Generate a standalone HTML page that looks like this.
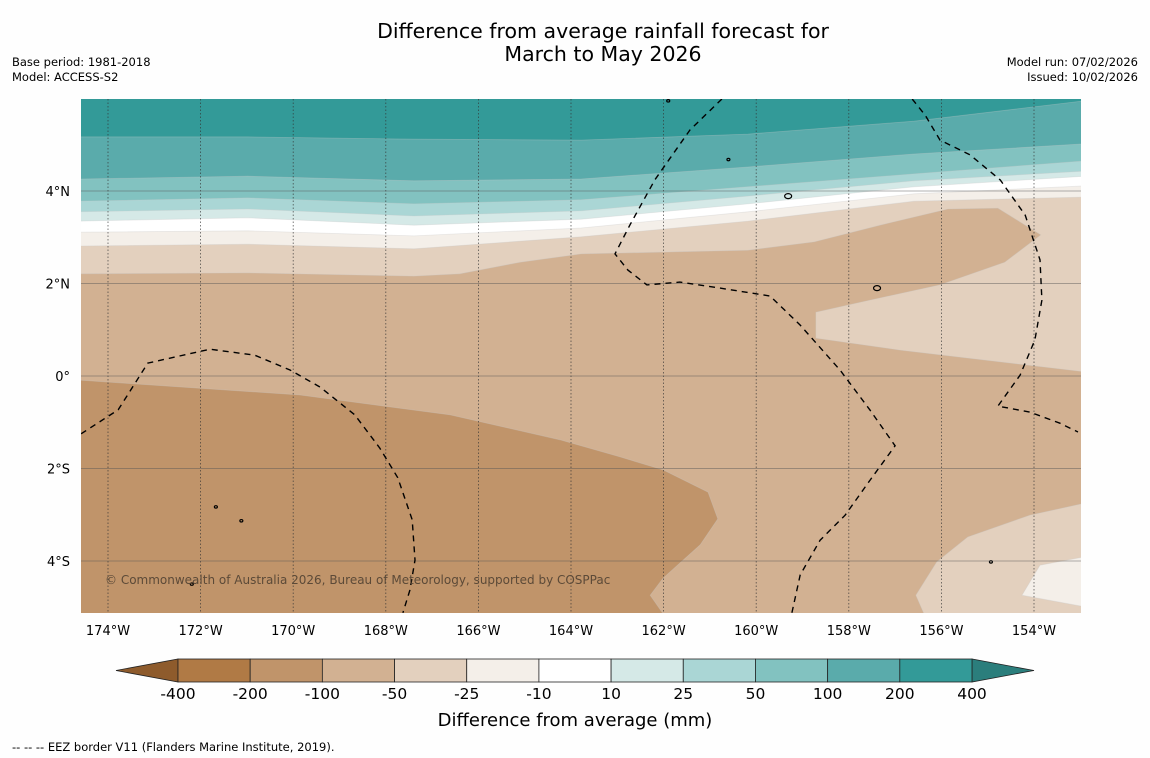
<!DOCTYPE html>
<html><head><meta charset="utf-8"><style>
html,body{margin:0;padding:0;background:#fff;width:1150px;height:758px;overflow:hidden;font-family:"DejaVu Sans",sans-serif;}
svg text{font-family:"DejaVu Sans","Liberation Sans",sans-serif;}
</style></head><body>
<svg id="chart" width="1150" height="758" viewBox="0 0 1150 758" xmlns="http://www.w3.org/2000/svg">
<rect width="1150" height="758" fill="#fefefe"/>
<text x="603" y="38" font-size="20.5" text-anchor="middle">Difference from average rainfall forecast for</text>
<text x="603" y="61" font-size="20.5" text-anchor="middle">March to May 2026</text>
<text x="12" y="66" font-size="11.5">Base period: 1981-2018</text>
<text x="12" y="81" font-size="11.5">Model: ACCESS-S2</text>
<text x="1138" y="66" font-size="11.5" text-anchor="end">Model run: 07/02/2026</text>
<text x="1138" y="81" font-size="11.5" text-anchor="end">Issued: 10/02/2026</text>
<defs><clipPath id="mapclip"><rect x="81" y="99" width="1000" height="514"/></clipPath></defs>
<g id="map" clip-path="url(#mapclip)"></g>
<g id="axes"></g>
<g id="cbar"></g>
<text x="575" y="726" font-size="18" text-anchor="middle">Difference from average (mm)</text>
<text x="12" y="751" font-size="11.5">--  --  -- EEZ border V11 (Flanders Marine Institute, 2019).</text>
</svg>
<script>
// Colour scale data
const levelLabels = ["-400","-200","-100","-50","-25","-10","10","25","50","100","200","400"];
const levelColors = ["#b07a45","#c0946a","#d2b192","#e3d0be","#f4efe9","#ffffff","#d5e9e7","#aad6d5","#82c2c0","#5aabab","#339a98"];
const lonTicks = [-174,-172,-170,-168,-166,-164,-162,-160,-158,-156,-154];
const latTicks = [4,2,0,-2,-4];
const lonLabels = ["174°W","172°W","170°W","168°W","166°W","164°W","162°W","160°W","158°W","156°W","154°W"];
const latLabels = ["4°N","2°N","0°","2°S","4°S"];
// Contour regions as [lon,lat] pairs, drawn in order
const regionColors = ["#c0946a","#e3d0be","#f4efe9","#e3d0be","#f4efe9","#ffffff","#d5e9e7","#aad6d5","#82c2c0","#5aabab","#339a98"];
const regions = [
 [[-174.6,-0.09],[-169.85,-0.41],[-166.61,-0.84],[-164.24,-1.38],[-162.94,-1.75],[-162.01,-2.03],[-161.04,-2.51],[-160.83,-3.09],[-161.21,-3.65],[-162.01,-4.37],[-162.29,-4.74],[-161.97,-5.2],[-174.6,-5.2]],
 [[-152.9,-2.75],[-154.09,-3.01],[-155.43,-3.48],[-156.1,-4.02],[-156.55,-4.74],[-156.35,-5.2],[-152.9,-5.2]],
 [[-152.9,-3.91],[-153.87,-4.09],[-154.26,-4.74],[-152.9,-4.99]],
 [[-174.6,6.1],[-174.6,2.21],[-170.98,2.23],[-167.39,2.16],[-166.4,2.21],[-165.1,2.46],[-163.78,2.64],[-160.18,2.72],[-158.75,2.9],[-157.33,3.26],[-155.86,3.61],[-154.78,3.63],[-153.85,3.05],[-154.63,2.46],[-156.03,1.97],[-157.54,1.64],[-158.71,1.38],[-158.71,0.82],[-156.89,0.56],[-152.9,0.09],[-152.9,6.1]],
 [[-174.6,6.1],[-174.6,2.81],[-170.98,2.85],[-167.39,2.75],[-163.78,3.01],[-160.18,3.35],[-156.59,3.78],[-152.9,3.87],[-152.9,6.1]],
 [[-174.6,6.1],[-174.6,3.11],[-170.98,3.14],[-167.39,3.03],[-163.78,3.2],[-160.18,3.55],[-156.59,3.94],[-152.9,4.11],[-152.9,6.1]],
 [[-174.6,6.1],[-174.6,3.35],[-170.98,3.42],[-167.39,3.26],[-163.78,3.39],[-160.18,3.72],[-156.59,4.09],[-152.9,4.32],[-152.9,6.1]],
 [[-174.6,6.1],[-174.6,3.55],[-170.98,3.61],[-167.39,3.46],[-163.78,3.57],[-160.18,3.89],[-156.59,4.22],[-152.9,4.43],[-152.9,6.1]],
 [[-174.6,6.1],[-174.6,3.78],[-170.98,3.85],[-167.39,3.72],[-163.78,3.81],[-160.18,4.09],[-156.59,4.37],[-152.9,4.65],[-152.9,6.1]],
 [[-174.6,6.1],[-174.6,4.26],[-170.98,4.32],[-167.39,4.22],[-163.78,4.26],[-160.18,4.52],[-156.59,4.8],[-152.9,5.02],[-152.9,6.1]],
 [[-174.6,6.1],[-174.6,5.17],[-170.98,5.17],[-167.39,5.12],[-163.78,5.1],[-160.18,5.23],[-156.59,5.51],[-152.9,5.95],[-152.9,6.1]]
];
const eezLines = [
 [[-174.58,-1.25],[-173.78,-0.73],[-173.14,0.28],[-171.8,0.58],[-170.83,0.45],[-170.07,0.13],[-169.42,-0.24],[-168.67,-0.84],[-168.13,-1.56],[-167.74,-2.2],[-167.43,-3.11],[-167.37,-3.98],[-167.48,-4.63],[-167.63,-5.12]],
 [[-160.74,5.99],[-161.43,5.32],[-162.19,4.24],[-162.73,3.26],[-163.05,2.64],[-162.77,2.29],[-162.36,1.97],[-161.65,2.03],[-160.78,1.9],[-159.7,1.73],[-159.05,1.1],[-158.19,0.13],[-157.54,-0.74],[-157.0,-1.51],[-157.54,-2.25],[-158.08,-3.01],[-158.62,-3.55],[-159.05,-4.3],[-159.23,-5.12]],
 [[-156.63,5.99],[-156.35,5.64],[-156.03,5.1],[-155.38,4.78],[-154.73,4.24],[-154.19,3.48],[-153.87,2.51],[-153.83,1.64],[-153.98,0.78],[-154.3,0.02],[-154.78,-0.65],[-154.09,-0.78],[-153.44,-1.02],[-153.05,-1.21]]
];
const islands = [[-159.31,3.89],[-157.39,1.9],[-171.67,-2.83],[-172.19,-4.5],[-154.93,-4.02],[-171.12,-3.13],[-161.9,5.95],[-160.6,4.68]];
const X0=108, DX=46.3, Y0=376, DY=46.25;
function lonX(lon){return X0+(lon+174)*DX;}
function latY(lat){return Y0-lat*DY;}
const NS="http://www.w3.org/2000/svg";
function mk(tag,attrs,parent){const e=document.createElementNS(NS,tag);for(const k in attrs)e.setAttribute(k,attrs[k]);parent.appendChild(e);return e;}
const map=document.getElementById('map');
const bg=mk('rect',{x:81,y:99,width:1000,height:514,fill:"#d2b192"},map);


regions.forEach((r,i)=>{
 const p=mk('polygon',{points:r.map(q=>lonX(q[0]).toFixed(1)+","+latY(q[1]).toFixed(1)).join(" "),fill:regionColors[i],stroke:"#c8c8c8","stroke-opacity":0.35,"stroke-width":0.8},map);
 
 
});
islands.forEach((s,i)=>{
 const e=mk('ellipse',{cx:lonX(s[0]),cy:latY(s[1]),rx:i<2?3.5:1.5,ry:i<2?2.5:1.2,fill:"none",stroke:"#000","stroke-width":1.2},map);
 
 
});
lonTicks.forEach((lon,i)=>{
 const l=mk('line',{x1:lonX(lon),x2:lonX(lon),y1:99,y2:613,stroke:"#333","stroke-width":0.8,"stroke-dasharray":"1.5,2","stroke-opacity":0.8},map);
 
 
});
latTicks.forEach((lat,i)=>{
 const l=mk('line',{x1:81,x2:1081,y1:latY(lat),y2:latY(lat),stroke:"#555","stroke-width":1,"stroke-opacity":0.45},map);
 
 
});
eezLines.forEach((ln,i)=>{
 const p=mk('polyline',{points:ln.map(q=>lonX(q[0]).toFixed(1)+","+latY(q[1]).toFixed(1)).join(" "),fill:"none",stroke:"#000","stroke-width":1.4,"stroke-dasharray":"6,5"},map);
 
 
});
const cp=mk('text',{x:105,y:584,"font-size":12,fill:"#5c4a38"},map);
cp.textContent="© Commonwealth of Australia 2026, Bureau of Meteorology, supported by COSPPac";


const axes=document.getElementById('axes');
lonTicks.forEach((lon,i)=>{
 const t=mk('text',{x:lonX(lon),y:635,"font-size":13,"text-anchor":"middle"},axes);
 t.textContent=lonLabels[i];
 
 
});
latTicks.forEach((lat,i)=>{
 const t=mk('text',{x:70,y:latY(lat)+5,"font-size":13,"text-anchor":"end"},axes);
 t.textContent=latLabels[i];
 
 
});
const cb=document.getElementById('cbar');
const cbX0=178, cbX1=972, cbY=659, cbH=23, segW=(cbX1-cbX0)/levelColors.length;
const lt=mk('polygon',{points:`116,670.5 ${cbX0},${cbY} ${cbX0},${cbY+cbH}`,fill:"#8e5b2c",stroke:"#222","stroke-width":0.8},cb);


const rt=mk('polygon',{points:`1034,670.5 ${cbX1},${cbY} ${cbX1},${cbY+cbH}`,fill:"#2b7e7c",stroke:"#222","stroke-width":0.8},cb);


levelColors.forEach((c,i)=>{
 const r=mk('rect',{x:cbX0+i*segW,y:cbY,width:segW,height:cbH,fill:c,stroke:"#222","stroke-width":0.8},cb);
 
 
});
levelLabels.forEach((s,i)=>{
 const t=mk('text',{x:cbX0+i*segW,y:699,"font-size":15.5,"text-anchor":"middle"},cb);
 t.textContent=s;
 
 
});
</script>
</body></html>
